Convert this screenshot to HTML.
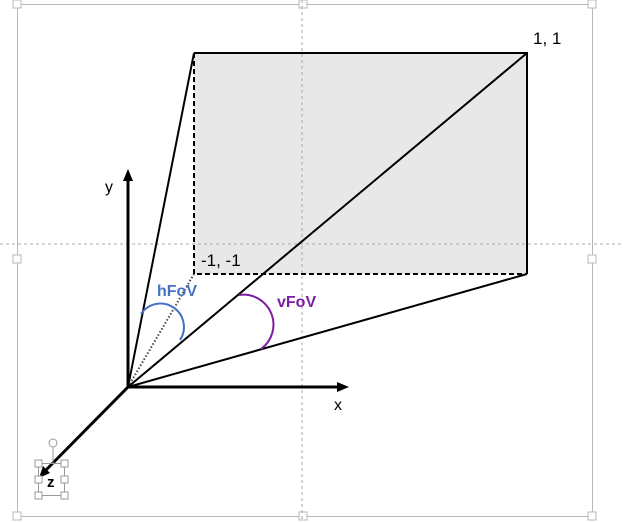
<!DOCTYPE html>
<html><head><meta charset="utf-8"><style>
html,body{margin:0;padding:0;background:#fff;width:624px;height:522px;overflow:hidden}
text{font-family:"Liberation Sans",sans-serif}
</style></head><body>
<svg width="624" height="522" viewBox="0 0 624 522">
<g fill="#fff" stroke="#b8b8b8" stroke-width="1">
<rect x="17.5" y="4.5" width="575" height="512" fill="none"/>
<rect x="13" y="0" width="8" height="8"/><rect x="299" y="0" width="8" height="8"/><rect x="588" y="0" width="8" height="8"/>
<rect x="13" y="255" width="8" height="8"/><rect x="588" y="255" width="8" height="8"/>
<rect x="13" y="512" width="8" height="8"/><rect x="299" y="512" width="8" height="8"/><rect x="588" y="512" width="8" height="8"/>
</g>
<rect x="194" y="53" width="333" height="221" fill="#e8e8e8"/>
<line x1="302" y1="0" x2="302" y2="522" stroke="#aaa" stroke-dasharray="3,3"/>
<line x1="0" y1="244" x2="624" y2="244" stroke="#aaa" stroke-dasharray="3,3"/>
<g stroke="#000" stroke-width="2" fill="none">
<path d="M194 53 H527 V274"/>
<path d="M194 53 V274 H527" stroke-dasharray="5,3"/>
<line x1="128" y1="387" x2="194" y2="53"/>
<line x1="128" y1="387" x2="527" y2="53"/>
<line x1="128" y1="387" x2="527" y2="274"/>
</g>
<line x1="128" y1="387" x2="194" y2="274" stroke="#445" stroke-width="2" stroke-dasharray="1.5,2"/>
<g stroke="#000" stroke-width="3">
<line x1="128" y1="387" x2="128" y2="178"/>
<line x1="128" y1="387" x2="340" y2="387"/>
<line x1="128" y1="387" x2="45" y2="471"/>
</g>
<polygon points="128,169 123,181 133,181"/>
<polygon points="349,387 337,382 337,392"/>
<polygon points="39,478 43,466 50,473"/>
<path d="M141 314 A23 23 0 0 1 180 340" stroke="#4472c4" stroke-width="2" fill="none"/>
<path d="M239 295 A30 30 0 0 1 261 349" stroke="#7a1fa2" stroke-width="2" fill="none"/>
<text x="533" y="44" font-size="17">1, 1</text>
<text x="201" y="266" font-size="17">-1, -1</text>
<text x="157" y="296" font-size="16" font-weight="bold" fill="#4472c4">hFoV</text>
<text x="277" y="307" font-size="16" font-weight="bold" fill="#7a1fa2">vFoV</text>
<text x="105" y="192" font-size="16">y</text>
<text x="334" y="410" font-size="16">x</text>
<g fill="#fff" stroke="#999">
<line x1="53" y1="447" x2="53" y2="463"/>
<circle cx="53" cy="443" r="4"/>
<rect x="38.5" y="463.5" width="26" height="32" fill="none"/>
<rect x="35" y="460" width="7" height="7"/><rect x="61" y="460" width="7" height="7"/>
<rect x="35" y="476" width="7" height="7"/><rect x="61" y="476" width="7" height="7"/>
<rect x="35" y="492" width="7" height="7"/><rect x="61" y="492" width="7" height="7"/>
</g>
<text x="47" y="487" font-size="15" font-weight="bold">z</text>
</svg>
</body></html>
